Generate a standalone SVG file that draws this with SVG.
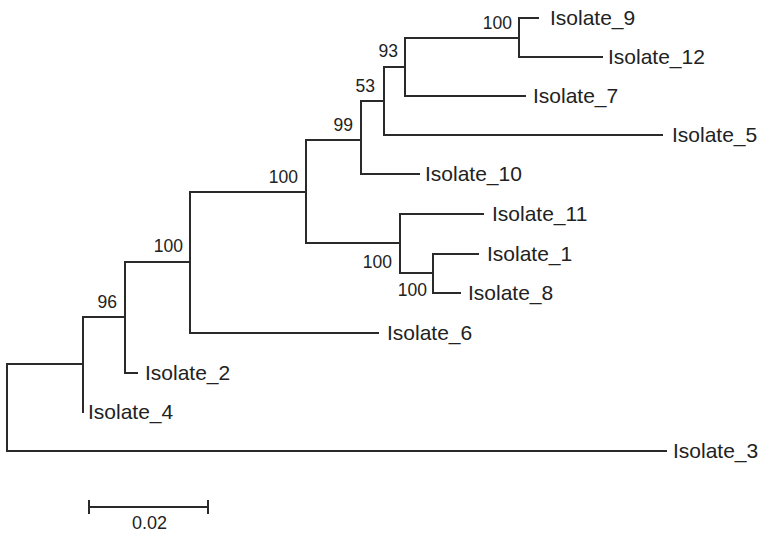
<svg xmlns="http://www.w3.org/2000/svg" width="761" height="538" viewBox="0 0 761 538">
<style>
.br{fill:none;stroke:#2a2a2a;stroke-width:2;stroke-linecap:square}
.lf{font-family:"Liberation Sans",Arial,sans-serif;font-size:21px;fill:#222}
.bs{font-family:"Liberation Sans",Arial,sans-serif;font-size:17.5px;fill:#222;text-anchor:end}
.sc{font-family:"Liberation Sans",Arial,sans-serif;font-size:18px;fill:#222;text-anchor:middle}
</style>
<rect width="761" height="538" fill="#fff"/>
<g id="connectors">
<path class="br" d="M7,364V451M7,364H83M7,451H666"/>
<path class="br" d="M83,317V412M83,317H125"/>
<path class="br" d="M125,262V373M125,373H137M125,262H190"/>
<path class="br" d="M190,192V333M190,333H378M190,192H306"/>
<path class="br" d="M306,140V243M306,140H361M306,243H400"/>
<path class="br" d="M361,101V174M361,174H419M361,101H384"/>
<path class="br" d="M384,67V135M384,135H662M384,67H405"/>
<path class="br" d="M405,38V96M405,96H525M405,38H519"/>
<path class="br" d="M519,18V57M519,18H538M519,57H602"/>
<path class="br" d="M400,214V273M400,214H483M400,273H433"/>
<path class="br" d="M433,254V293M433,254H478M433,293H460"/>
</g>
<g id="node-H"><text class="bs" x="512" y="28.5">100</text></g>
<g id="node-G"><text class="bs" x="398" y="57">93</text></g>
<g id="node-F"><text class="bs" x="375" y="92">53</text></g>
<g id="node-E"><text class="bs" x="353" y="131">99</text></g>
<g id="node-D"><text class="bs" x="298" y="183">100</text></g>
<g id="node-I"><text class="bs" x="392" y="268">100</text></g>
<g id="node-J"><text class="bs" x="427" y="296">100</text></g>
<g id="node-C"><text class="bs" x="183" y="252">100</text></g>
<g id="node-B"><text class="bs" x="117" y="308">96</text></g>
<g id="leaf-9"><text class="lf" x="550" y="25">Isolate_9</text></g>
<g id="leaf-12"><text class="lf" x="608" y="64">Isolate_12</text></g>
<g id="leaf-7"><text class="lf" x="533" y="103">Isolate_7</text></g>
<g id="leaf-5"><text class="lf" x="672" y="142">Isolate_5</text></g>
<g id="leaf-10"><text class="lf" x="425" y="181">Isolate_10</text></g>
<g id="leaf-11"><text class="lf" x="492" y="221">Isolate_11</text></g>
<g id="leaf-1"><text class="lf" x="487" y="261">Isolate_1</text></g>
<g id="leaf-8"><text class="lf" x="468" y="300">Isolate_8</text></g>
<g id="leaf-6"><text class="lf" x="387" y="340">Isolate_6</text></g>
<g id="leaf-2"><text class="lf" x="145" y="380">Isolate_2</text></g>
<g id="leaf-4"><text class="lf" x="88" y="419">Isolate_4</text></g>
<g id="leaf-3"><text class="lf" x="673" y="458">Isolate_3</text></g>
<g id="scale-bar">
<path class="br" d="M89,507H208M89,501V513M208,501V513"/>
<text class="sc" x="149.5" y="529">0.02</text>
</g>
</svg>
